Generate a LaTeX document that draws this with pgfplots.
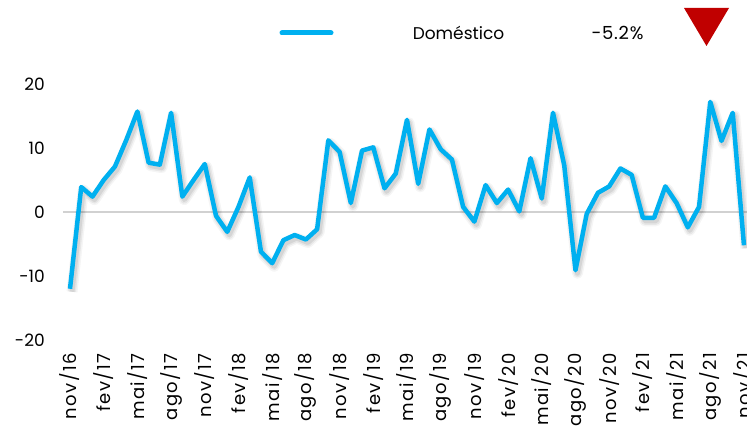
\documentclass[border=0pt]{standalone}
\usepackage{fontspec}
\setmainfont{Poppins}
\newfontfamily\widefont{Poppins}[LetterSpace=8]
\newfontfamily\semifont{Poppins}[LetterSpace=4]
\usepackage{pgfplots}
\pgfplotsset{compat=1.18}
\definecolor{linec}{HTML}{00B0F0}
\definecolor{tri}{HTML}{C00000}
\begin{document}
\begin{tikzpicture}[x=1pt,y=1pt]
\path[use as bounding box] (0,0) rectangle (747,428);
\clip (0,0) rectangle (747,428);
\begin{axis}[
  at={(63pt,88pt)}, anchor=south west,
  scale only axis, width=684pt, height=256pt,
  xmin=-0.623, xmax=60.27, ymin=-20, ymax=20,
  clip=true,
  axis line style={draw=none},
  major tick length=0pt,
  ytick={-20,-10,0,10,20},
  yticklabels={-20,-10,0,10,20},
  yticklabel style={font=\fontsize{17}{20}\selectfont, inner sep=0pt, anchor=east, xshift=-18pt},
  xtick={0,3,...,60},
  xticklabels={nov/16,fev/17,mai/17,ago/17,nov/17,fev/18,mai/18,ago/18,nov/18,fev/19,mai/19,ago/19,nov/19,fev/20,mai/20,ago/20,nov/20,fev/21,mai/21,ago/21,nov/21},
  xticklabel style={font=\widefont\fontsize{18}{20}\selectfont, inner sep=0pt, yshift=-13pt, rotate=90, anchor=east},
  extra y ticks={0}, extra y tick labels={},
  extra y tick style={grid=major, major grid style={draw=black!18, line width=1.5pt}},
]
\pgfplotstableread{
x y
0 -12.0
1 3.9
2 2.4
3 5.0
4 7.1
5 11.2
6 15.7
7 7.7
8 7.4
9 15.5
10 2.4
11 5.0
12 7.5
13 -0.6
14 -3.1
15 0.8
16 5.4
17 -6.2
18 -8.0
19 -4.4
20 -3.6
21 -4.3
22 -2.7
23 11.2
24 9.4
25 1.4
26 9.6
27 10.1
28 3.7
29 6.0
30 14.4
31 4.4
32 12.9
33 9.8
34 8.2
35 0.8
36 -1.5
37 4.2
38 1.4
39 3.5
40 0.1
41 8.4
42 2.1
43 15.5
44 7.3
45 -9.1
46 -0.3
47 3.0
48 4.0
49 6.8
50 5.8
51 -0.9
52 -0.9
53 4.0
54 1.4
55 -2.4
56 0.8
57 17.2
58 11.1
59 15.5
60 -5.2
}\datatable
\addplot[black, opacity=0.04, line width=11pt, line join=round, xshift=2pt, yshift=-3pt] table {\datatable};
\addplot[black, opacity=0.06, line width=8pt, line join=round, xshift=2pt, yshift=-3pt] table {\datatable};
\addplot[black, opacity=0.08, line width=5pt, line join=round, xshift=2pt, yshift=-3pt] table {\datatable};
\addplot[linec, line width=4.5pt, line join=round] table {\datatable};
\end{axis}
\draw[linec, line width=5pt, line cap=round] (282,395) -- (331,395);
\node[font=\fontsize{17}{20}\selectfont] at (458.5,395) {Doméstico};
\node[font=\semifont\fontsize{18}{20}\selectfont] at (617.5,395) {-5.2\%};
\fill[tri] (684,420) -- (729,420) -- (706.5,382) -- cycle;
\end{tikzpicture}
\end{document}
